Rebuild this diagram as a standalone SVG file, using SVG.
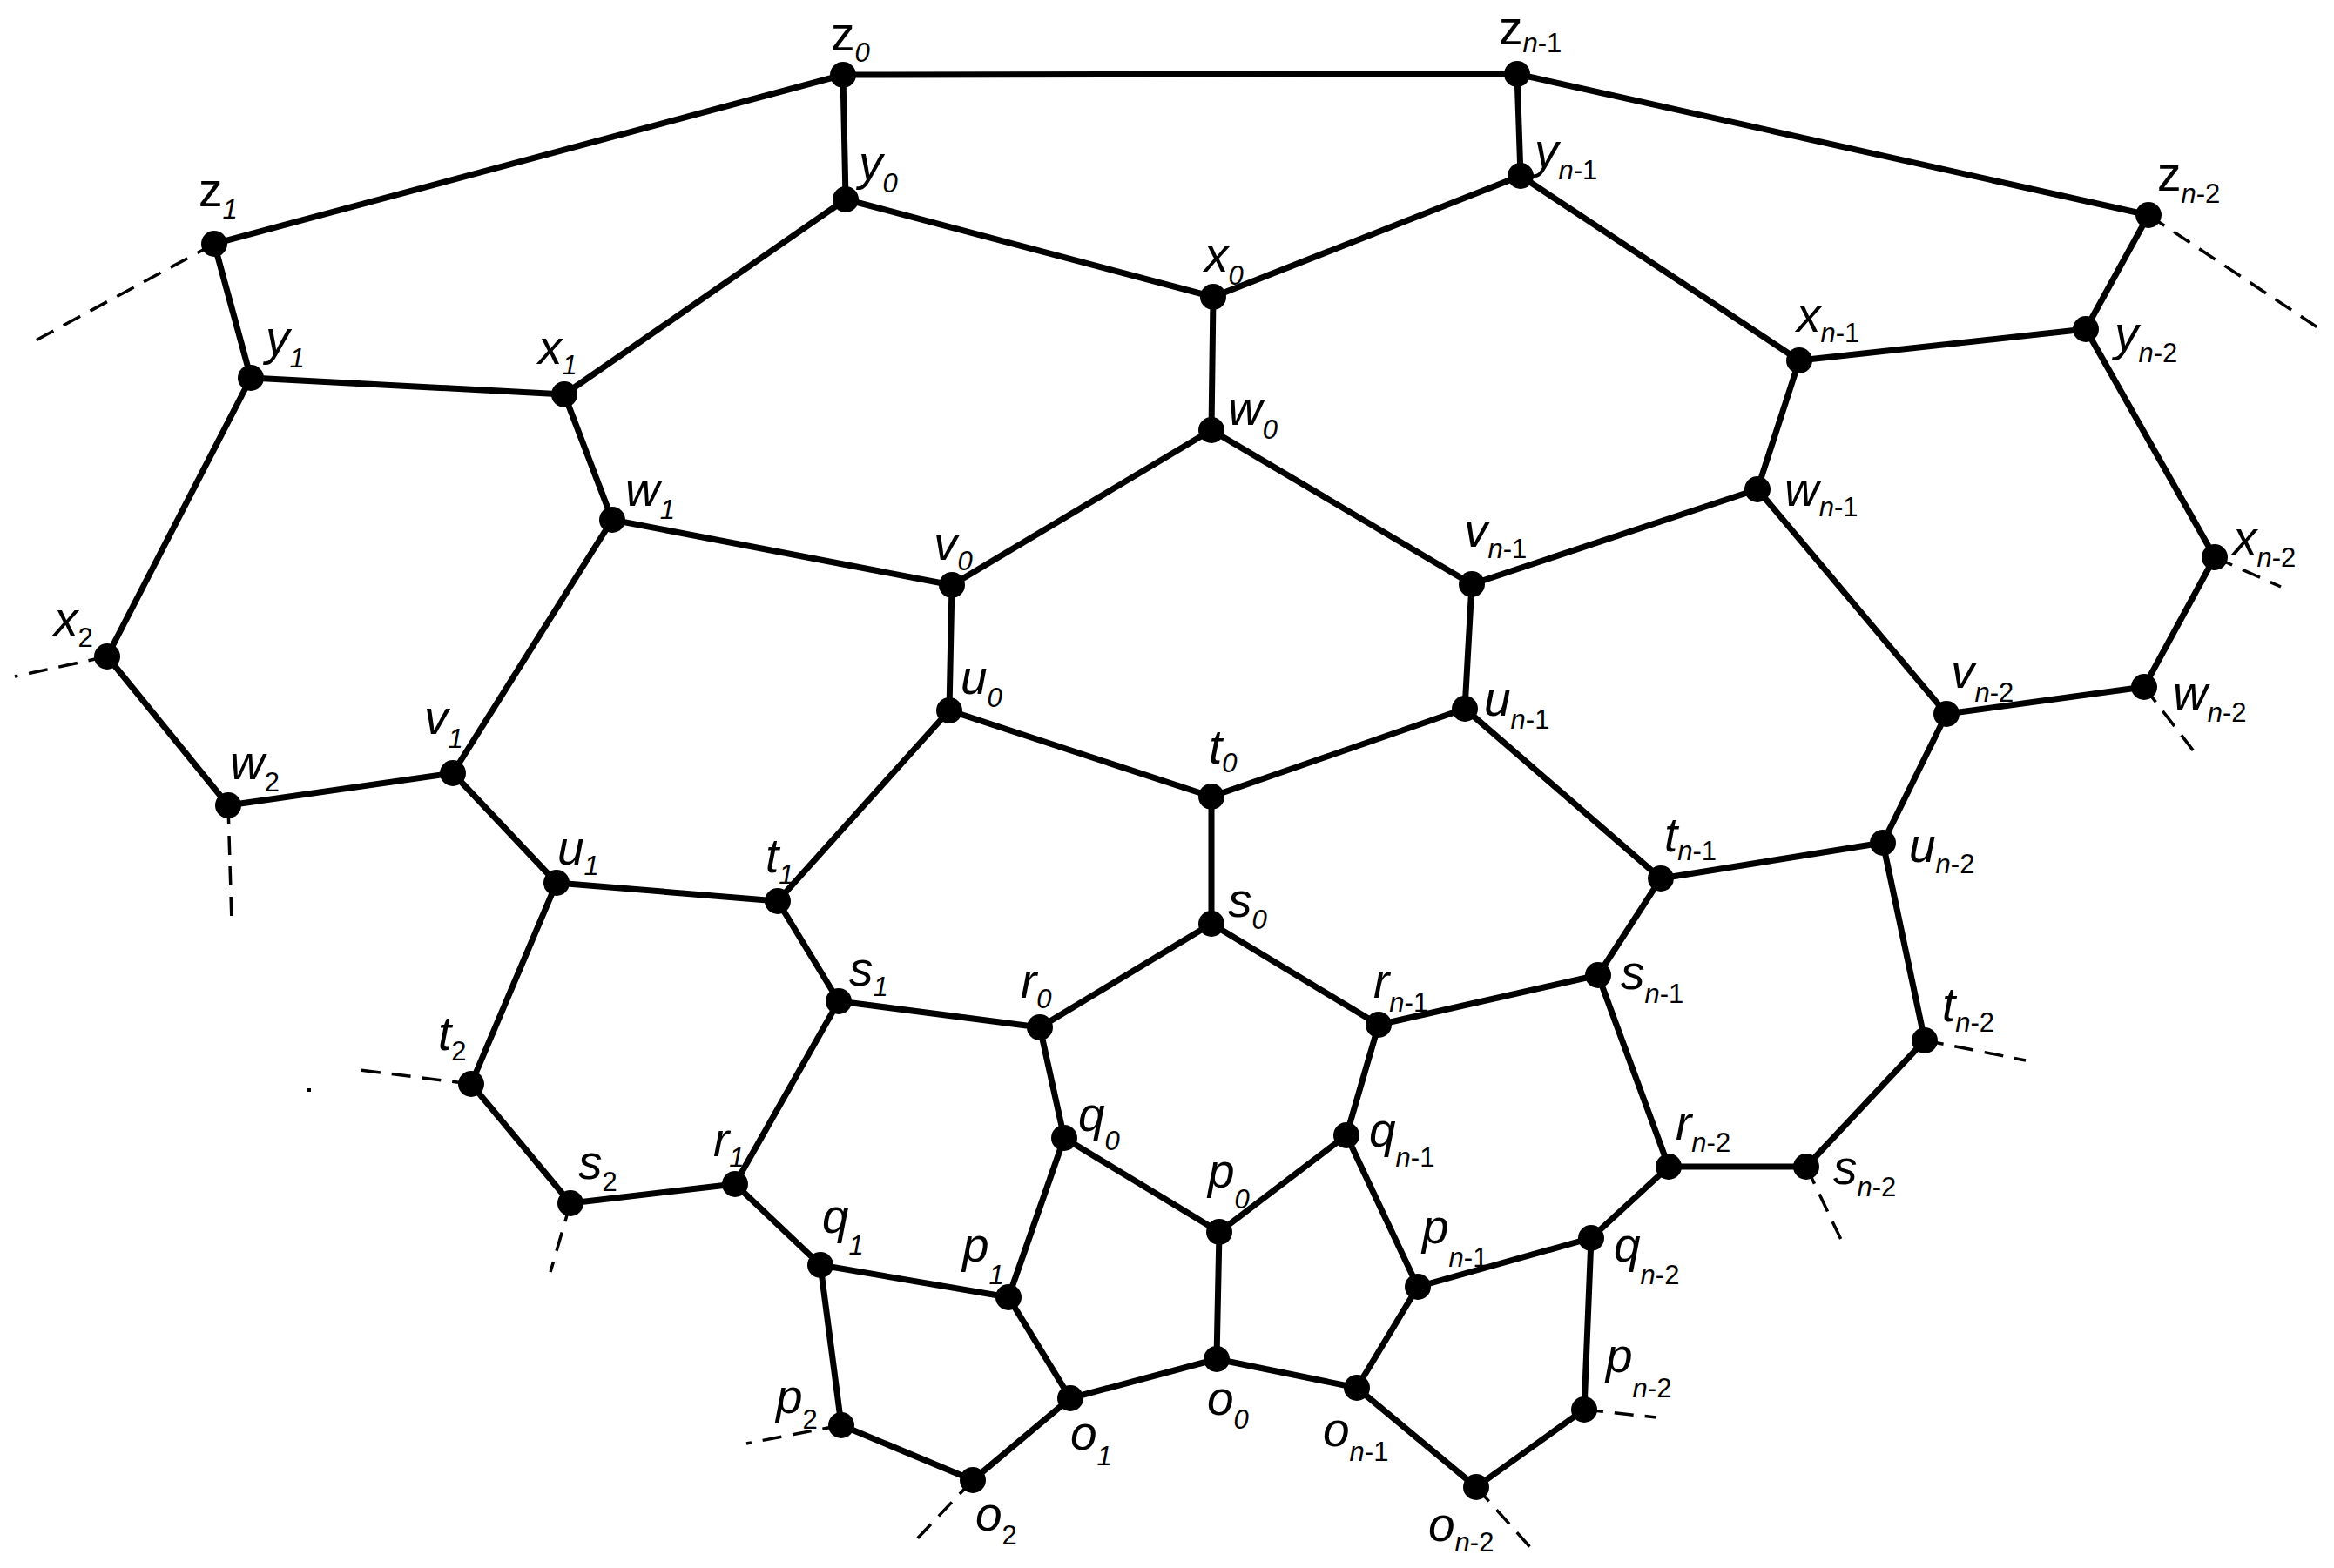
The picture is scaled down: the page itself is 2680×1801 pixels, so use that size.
<svg xmlns="http://www.w3.org/2000/svg" width="2680" height="1801" viewBox="0 0 2680 1801">
<style>
.e{stroke:#000;stroke-width:7;fill:none;stroke-linecap:round}
.d{stroke:#000;stroke-width:3.5;fill:none;stroke-dasharray:22 13}
.n{fill:#000}
text{font-family:"Liberation Sans",Arial,sans-serif;font-style:italic;font-size:55px;fill:#000}
.s{font-size:31px}
.up{font-style:normal}
</style>
<rect width="2680" height="1801" fill="#fff"/>
<g id="connectors">
<path class="e" d="M968,86 L1742,85 M968,86 L246,280 M1742,85 L2467,247 M968,86 L971,229 M1742,85 L1746,202
M971,229 L1393,341 M1393,341 L1746,202 M971,229 L648,453 M1746,202 L2066,414
M246,280 L288,434 M2467,247 L2395,378 M288,434 L648,453 M2066,414 L2395,378
M1393,341 L1391,494 M648,453 L703,597 M2066,414 L2018,562 M288,434 L123,754 M2395,378 L2543,640
M1391,494 L1093,672 M1391,494 L1690,671 M703,597 L1093,672 M2018,562 L1690,671 M703,597 L520,888 M2018,562 L2235,820
M123,754 L262,925 M2543,640 L2462,789 M262,925 L520,888 M2462,789 L2235,820
M1093,672 L1090,816 M1690,671 L1682,814 M1090,816 L1391,915 M1682,814 L1391,915 M1090,816 L893,1035 M1682,814 L1907,1009
M520,888 L639,1014 M2235,820 L2162,968 M639,1014 L893,1035 M2162,968 L1907,1009 M639,1014 L541,1245 M2162,968 L2210,1195
M1391,915 L1391,1061 M893,1035 L963,1150 M1907,1009 L1835,1120
M1391,1061 L1194,1180 M1391,1061 L1583,1177 M963,1150 L1194,1180 M1835,1120 L1583,1177 M963,1150 L844,1360 M1835,1120 L1916,1340
M541,1245 L655,1382 M2210,1195 L2074,1340 M655,1382 L844,1360 M2074,1340 L1916,1340
M1194,1180 L1222,1307 M1583,1177 L1546,1304 M1222,1307 L1400,1415 M1546,1304 L1400,1415 M1222,1307 L1158,1490 M1546,1304 L1628,1478
M844,1360 L942,1453 M1916,1340 L1827,1422 M942,1453 L1158,1490 M1628,1478 L1827,1422
M1400,1415 L1397,1561 M1158,1490 L1229,1606 M1628,1478 L1558,1594 M1397,1561 L1229,1606 M1397,1561 L1558,1594
M942,1453 L966,1637 M1827,1422 L1819,1619 M966,1637 L1117,1700 M1819,1619 L1695,1708 M1229,1606 L1117,1700 M1558,1594 L1695,1708"/>
<path class="d" d="M246,280 L41,391 M123,754 L17,777 M262,925 L266,1059 M541,1245 L405,1228 M655,1382 L632,1461 M966,1637 L857,1658 M1117,1700 L1045,1776
M1695,1708 L1765,1786 M1819,1619 L1902,1628 M2074,1340 L2116,1428 M2210,1195 L2326,1218 M2462,789 L2526,872 M2543,640 L2619,674 M2467,247 L2661,376"/>
<rect x="353" y="1250" width="4" height="4" class="n"/>
</g>
<g id="z0"><circle class="n" cx="968" cy="86" r="15"/><text x="954" y="58"><tspan class="up">z</tspan><tspan class="s" dy="13">0</tspan></text></g>
<g id="zn-1"><circle class="n" cx="1742" cy="85" r="15"/><text x="1721" y="51"><tspan class="up">z</tspan><tspan class="s" dy="9">n<tspan class="up">-1</tspan></tspan></text></g>
<g id="z1"><circle class="n" cx="246" cy="280" r="15"/><text x="228" y="237"><tspan class="up">z</tspan><tspan class="s" dy="14">1</tspan></text></g>
<g id="zn-2"><circle class="n" cx="2467" cy="247" r="15"/><text x="2477" y="219"><tspan class="up">z</tspan><tspan class="s" dy="14">n<tspan class="up">-2</tspan></tspan></text></g>
<g id="y0"><circle class="n" cx="971" cy="229" r="15"/><text x="986" y="206">y<tspan class="s" dy="15">0</tspan></text></g>
<g id="yn-1"><circle class="n" cx="1746" cy="202" r="15"/><text x="1762" y="192">y<tspan class="s" dy="14">n<tspan class="up">-1</tspan></tspan></text></g>
<g id="y1"><circle class="n" cx="288" cy="434" r="15"/><text x="305" y="407">y<tspan class="s" dy="15">1</tspan></text></g>
<g id="yn-2"><circle class="n" cx="2395" cy="378" r="15"/><text x="2428" y="402">y<tspan class="s" dy="14">n<tspan class="up">-2</tspan></tspan></text></g>
<g id="x0"><circle class="n" cx="1393" cy="341" r="15"/><text x="1383" y="312">x<tspan class="s" dy="15">0</tspan></text></g>
<g id="x1"><circle class="n" cx="648" cy="453" r="15"/><text x="618" y="418">x<tspan class="s" dy="12">1</tspan></text></g>
<g id="xn-1"><circle class="n" cx="2066" cy="414" r="15"/><text x="2063" y="381">x<tspan class="s" dy="12">n<tspan class="up">-1</tspan></tspan></text></g>
<g id="x2"><circle class="n" cx="123" cy="754" r="15"/><text x="62" y="730">x<tspan class="s up" dy="13">2</tspan></text></g>
<g id="xn-2"><circle class="n" cx="2543" cy="640" r="15"/><text x="2564" y="637">x<tspan class="s" dy="14">n<tspan class="up">-2</tspan></tspan></text></g>
<g id="w0"><circle class="n" cx="1391" cy="494" r="15"/><text x="1410" y="488">w<tspan class="s" dy="16">0</tspan></text></g>
<g id="w1"><circle class="n" cx="703" cy="597" r="15"/><text x="718" y="581">w<tspan class="s" dy="15">1</tspan></text></g>
<g id="wn-1"><circle class="n" cx="2018" cy="562" r="15"/><text x="2049" y="581">w<tspan class="s" dy="12">n<tspan class="up">-1</tspan></tspan></text></g>
<g id="w2"><circle class="n" cx="262" cy="925" r="15"/><text x="264" y="895">w<tspan class="s up" dy="14">2</tspan></text></g>
<g id="wn-2"><circle class="n" cx="2462" cy="789" r="15"/><text x="2495" y="815">w<tspan class="s" dy="14">n<tspan class="up">-2</tspan></tspan></text></g>
<g id="v0"><circle class="n" cx="1093" cy="672" r="15"/><text x="1072" y="643">v<tspan class="s" dy="12">0</tspan></text></g>
<g id="vn-1"><circle class="n" cx="1690" cy="671" r="15"/><text x="1681" y="628">v<tspan class="s" dy="13">n<tspan class="up">-1</tspan></tspan></text></g>
<g id="v1"><circle class="n" cx="520" cy="888" r="15"/><text x="487" y="843">v<tspan class="s" dy="16">1</tspan></text></g>
<g id="vn-2"><circle class="n" cx="2235" cy="820" r="15"/><text x="2240" y="790">v<tspan class="s" dy="16">n<tspan class="up">-2</tspan></tspan></text></g>
<g id="u0"><circle class="n" cx="1090" cy="816" r="15"/><text x="1103" y="797">u<tspan class="s" dy="15">0</tspan></text></g>
<g id="un-1"><circle class="n" cx="1682" cy="814" r="15"/><text x="1704" y="822">u<tspan class="s" dy="15">n<tspan class="up">-1</tspan></tspan></text></g>
<g id="u1"><circle class="n" cx="639" cy="1014" r="15"/><text x="640" y="993">u<tspan class="s" dy="12">1</tspan></text></g>
<g id="un-2"><circle class="n" cx="2162" cy="968" r="15"/><text x="2192" y="990">u<tspan class="s" dy="13">n<tspan class="up">-2</tspan></tspan></text></g>
<g id="t0"><circle class="n" cx="1391" cy="915" r="15"/><text x="1388" y="877">t<tspan class="s" dy="10">0</tspan></text></g>
<g id="t1"><circle class="n" cx="893" cy="1035" r="15"/><text x="879" y="1002">t<tspan class="s" dy="13">1</tspan></text></g>
<g id="tn-1"><circle class="n" cx="1907" cy="1009" r="15"/><text x="1911" y="978">t<tspan class="s" dy="10">n<tspan class="up">-1</tspan></tspan></text></g>
<g id="t2"><circle class="n" cx="541" cy="1245" r="15"/><text x="503" y="1206">t<tspan class="s up" dy="12">2</tspan></text></g>
<g id="tn-2"><circle class="n" cx="2210" cy="1195" r="15"/><text x="2230" y="1173">t<tspan class="s" dy="12">n<tspan class="up">-2</tspan></tspan></text></g>
<g id="s0"><circle class="n" cx="1391" cy="1061" r="15"/><text x="1410" y="1053">s<tspan class="s" dy="14">0</tspan></text></g>
<g id="s1"><circle class="n" cx="963" cy="1150" r="15"/><text x="975" y="1132">s<tspan class="s" dy="12">1</tspan></text></g>
<g id="sn-1"><circle class="n" cx="1835" cy="1120" r="15"/><text x="1861" y="1136">s<tspan class="s" dy="16">n<tspan class="up">-1</tspan></tspan></text></g>
<g id="s2"><circle class="n" cx="655" cy="1382" r="15"/><text x="664" y="1354">s<tspan class="s up" dy="14">2</tspan></text></g>
<g id="sn-2"><circle class="n" cx="2074" cy="1340" r="15"/><text x="2105" y="1360">s<tspan class="s" dy="14">n<tspan class="up">-2</tspan></tspan></text></g>
<g id="r0"><circle class="n" cx="1194" cy="1180" r="15"/><text x="1172" y="1146">r<tspan class="s" dy="12">0</tspan></text></g>
<g id="rn-1"><circle class="n" cx="1583" cy="1177" r="15"/><text x="1577" y="1146">r<tspan class="s" dy="16">n<tspan class="up">-1</tspan></tspan></text></g>
<g id="r1"><circle class="n" cx="844" cy="1360" r="15"/><text x="819" y="1328">r<tspan class="s" dy="12">1</tspan></text></g>
<g id="rn-2"><circle class="n" cx="1916" cy="1340" r="15"/><text x="1924" y="1309">r<tspan class="s" dy="14">n<tspan class="up">-2</tspan></tspan></text></g>
<g id="q0"><circle class="n" cx="1222" cy="1307" r="15"/><text x="1238" y="1299">q<tspan class="s" dy="22">0</tspan></text></g>
<g id="qn-1"><circle class="n" cx="1546" cy="1304" r="15"/><text x="1572" y="1317">q<tspan class="s" dy="23">n<tspan class="up">-1</tspan></tspan></text></g>
<g id="q1"><circle class="n" cx="942" cy="1453" r="15"/><text x="944" y="1416">q<tspan class="s" dy="25">1</tspan></text></g>
<g id="qn-2"><circle class="n" cx="1827" cy="1422" r="15"/><text x="1853" y="1449">q<tspan class="s" dy="26">n<tspan class="up">-2</tspan></tspan></text></g>
<g id="p0"><circle class="n" cx="1400" cy="1415" r="15"/><text x="1387" y="1364">p<tspan class="s" dy="24">0</tspan></text></g>
<g id="p1"><circle class="n" cx="1158" cy="1490" r="15"/><text x="1105" y="1449">p<tspan class="s" dy="26">1</tspan></text></g>
<g id="pn-1"><circle class="n" cx="1628" cy="1478" r="15"/><text x="1633" y="1428">p<tspan class="s" dy="27">n<tspan class="up">-1</tspan></tspan></text></g>
<g id="p2"><circle class="n" cx="966" cy="1637" r="15"/><text x="891" y="1623">p<tspan class="s up" dy="18">2</tspan></text></g>
<g id="pn-2"><circle class="n" cx="1819" cy="1619" r="15"/><text x="1844" y="1576">p<tspan class="s" dy="29">n<tspan class="up">-2</tspan></tspan></text></g>
<g id="o0"><circle class="n" cx="1397" cy="1561" r="15"/><text x="1386" y="1625">o<tspan class="s" dy="16">0</tspan></text></g>
<g id="o1"><circle class="n" cx="1229" cy="1606" r="15"/><text x="1229" y="1665">o<tspan class="s" dy="18">1</tspan></text></g>
<g id="on-1"><circle class="n" cx="1558" cy="1594" r="15"/><text x="1519" y="1661">o<tspan class="s" dy="17">n<tspan class="up">-1</tspan></tspan></text></g>
<g id="o2"><circle class="n" cx="1117" cy="1700" r="15"/><text x="1120" y="1758">o<tspan class="s up" dy="16">2</tspan></text></g>
<g id="on-2"><circle class="n" cx="1695" cy="1708" r="15"/><text x="1640" y="1770">o<tspan class="s" dy="12">n<tspan class="up">-2</tspan></tspan></text></g>
</svg>
